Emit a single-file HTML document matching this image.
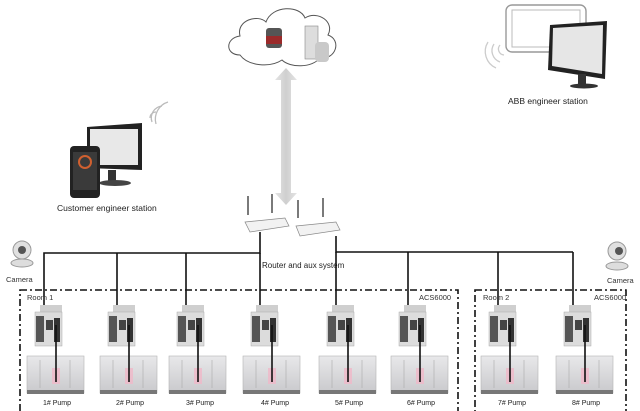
<!DOCTYPE html>
<html><head><style>
body{margin:0;background:#fff;}
svg{display:block;font-family:"Liberation Sans",sans-serif;}
</style></head><body>
<svg width="640" height="411" viewBox="0 0 640 411" xmlns="http://www.w3.org/2000/svg">
<defs>
<linearGradient id="pg" x1="0" y1="0" x2="0" y2="1"><stop offset="0" stop-color="#e8e8ea"/><stop offset="1" stop-color="#c9c9cc"/></linearGradient>
<linearGradient id="ar" x1="0" y1="0" x2="1" y2="0"><stop offset="0" stop-color="#e4e4e4"/><stop offset="0.5" stop-color="#cfcfcf"/><stop offset="1" stop-color="#e4e4e4"/></linearGradient>
<g id="unit">
  <rect x="27" y="356" width="57" height="37" fill="url(#pg)" stroke="#b5b5b5" stroke-width="0.6"/>
  <rect x="27" y="390" width="57" height="4" fill="#777"/>
  <line x1="40" y1="360" x2="40" y2="388" stroke="#aaa" stroke-width="0.6"/>
  <line x1="70" y1="360" x2="70" y2="388" stroke="#aaa" stroke-width="0.6"/>
  <rect x="52" y="368" width="8" height="16" fill="#f0b8c8" opacity="0.8"/>
  <rect x="40" y="305" width="22" height="13" fill="#cfcfcf"/>
  <rect x="35" y="312" width="27" height="34" fill="#dcdcdc" stroke="#aaa" stroke-width="0.5"/>
  <rect x="36" y="316" width="8" height="26" fill="#555"/>
  <rect x="46" y="320" width="7" height="10" fill="#444"/>
  <rect x="54" y="318" width="6" height="24" fill="#333"/>
  <line x1="56" y1="325" x2="56" y2="382" stroke="#111" stroke-width="1.6"/>
</g>
</defs>

<!-- cloud -->
<path d="M240,55 C225,55 225,38 240,36 C236,20 258,14 266,22 C272,5 300,5 305,18 C318,10 335,22 328,35 C342,40 336,60 320,58 C312,68 290,68 282,60 C270,68 248,66 240,55 Z" fill="#fff" stroke="#555" stroke-width="1"/>
<rect x="266" y="28" width="16" height="20" rx="3" fill="#555"/>
<rect x="266" y="36" width="16" height="8" fill="#9b2a2a"/>
<rect x="305" y="26" width="13" height="33" fill="#ddd" stroke="#888" stroke-width="0.6"/>
<rect x="315" y="42" width="14" height="20" rx="4" fill="#c9c9c9"/>
<!-- arrow -->
<polygon points="286,68 297,80 291,80 291,193 297,193 286,205 275,193 281,193 281,80 275,80" fill="url(#ar)"/>

<!-- routers -->
<line x1="248" y1="196" x2="248" y2="215" stroke="#222" stroke-width="1.2"/>
<line x1="272" y1="194" x2="272" y2="213" stroke="#222" stroke-width="1.2"/>
<polygon points="245,222 285,218 289,226 250,232" fill="#f2f2f2" stroke="#888" stroke-width="0.7"/>
<line x1="298" y1="200" x2="298" y2="218" stroke="#222" stroke-width="1.2"/>
<line x1="323" y1="198" x2="323" y2="217" stroke="#222" stroke-width="1.2"/>
<polygon points="296,226 336,222 340,230 300,236" fill="#f2f2f2" stroke="#888" stroke-width="0.7"/>
<text x="262" y="268" font-size="8" fill="#222">Router and aux system</text>

<!-- bus -->
<g stroke="#111" stroke-width="1.6" fill="none">
<polyline points="44,335 44,253 260,253 260,232"/>
<line x1="117" y1="253" x2="117" y2="335"/>
<line x1="186" y1="253" x2="186" y2="335"/>
<line x1="260" y1="253" x2="260" y2="335"/>
<polyline points="336,236 336,252 573,252"/>
<line x1="336" y1="252" x2="336" y2="335"/>
<line x1="408" y1="252" x2="408" y2="335"/>
<line x1="498" y1="252" x2="498" y2="335"/>
<line x1="573" y1="252" x2="573" y2="335"/>
</g>

<!-- rooms -->
<g stroke="#111" stroke-width="1.6" fill="none" stroke-dasharray="7,3,2,3">
<rect x="20" y="290" width="438" height="125"/>
<rect x="475" y="290" width="151" height="125"/>
</g>
<text x="27" y="300" font-size="7.5" fill="#333">Room 1</text>
<text x="419" y="300" font-size="7.5" fill="#333">ACS6000</text>
<text x="483" y="300" font-size="7.5" fill="#333">Room 2</text>
<text x="594" y="300" font-size="7.5" fill="#333">ACS6000</text>

<use href="#unit"/>
<use href="#unit" transform="translate(73,0)"/>
<use href="#unit" transform="translate(142,0)"/>
<use href="#unit" transform="translate(216,0)"/>
<use href="#unit" transform="translate(292,0)"/>
<use href="#unit" transform="translate(364,0)"/>
<use href="#unit" transform="translate(454,0)"/>
<use href="#unit" transform="translate(529,0)"/>
<g font-size="7" fill="#222" text-anchor="middle">
<text x="57" y="405">1# Pump</text><text x="130" y="405">2# Pump</text>
<text x="200" y="405">3# Pump</text><text x="275" y="405">4# Pump</text>
<text x="349" y="405">5# Pump</text><text x="421" y="405">6# Pump</text>
<text x="512" y="405">7# Pump</text><text x="586" y="405">8# Pump</text>
</g>

<!-- cameras -->
<circle cx="22" cy="250" r="9" fill="#e0e0e0" stroke="#999"/><circle cx="22" cy="250" r="4" fill="#555"/>
<ellipse cx="22" cy="263" rx="11" ry="4" fill="#ddd" stroke="#999"/>
<text x="6" y="282" font-size="7.5" fill="#333">Camera</text>
<circle cx="617" cy="251" r="9" fill="#e0e0e0" stroke="#999"/><circle cx="619" cy="251" r="4" fill="#555"/>
<ellipse cx="617" cy="266" rx="11" ry="4" fill="#ddd" stroke="#999"/>
<text x="607" y="283" font-size="7.5" fill="#333">Camera</text>

<!-- customer station -->
<polygon points="87,127 142,123 142,170 87,168" fill="#222"/>
<rect x="90" y="129" width="48" height="36" fill="#e8e8e8"/>
<rect x="108" y="170" width="8" height="12" fill="#333"/>
<ellipse cx="115" cy="183" rx="16" ry="3" fill="#444"/>
<rect x="70" y="146" width="30" height="52" rx="4" fill="#222"/>
<rect x="73" y="152" width="24" height="38" fill="#3a3a3a"/>
<circle cx="85" cy="162" r="6" fill="none" stroke="#d06030" stroke-width="2"/>
<g fill="none" stroke="#bbb" stroke-width="1.3">
<path d="M150,118 a6,6 0 0 1 6,-6"/><path d="M152,122 a12,12 0 0 1 10,-16"/><path d="M156,124 a18,18 0 0 1 12,-22"/>
</g>
<text x="57" y="211" font-size="8.5" fill="#222">Customer engineer station</text>

<!-- ABB station -->
<rect x="506" y="5" width="80" height="47" rx="6" fill="#fff" stroke="#999" stroke-width="1.4"/>
<rect x="512" y="10" width="68" height="37" fill="none" stroke="#bbb"/>
<polygon points="550,25 607,21 605,79 548,70" fill="#222"/>
<polygon points="553,28 603,25 602,74 552,66" fill="#e6e6e6"/>
<rect x="578" y="74" width="8" height="10" fill="#333"/>
<ellipse cx="584" cy="86" rx="14" ry="2.5" fill="#333"/>
<g fill="none" stroke="#ccc" stroke-width="1.3">
<path d="M500,45 a6,6 0 0 0 4,10"/><path d="M494,44 a12,12 0 0 0 6,18"/><path d="M488,42 a18,18 0 0 0 8,26"/>
</g>
<text x="508" y="104" font-size="8.5" fill="#222">ABB engineer station</text>
</svg>
</body></html>
